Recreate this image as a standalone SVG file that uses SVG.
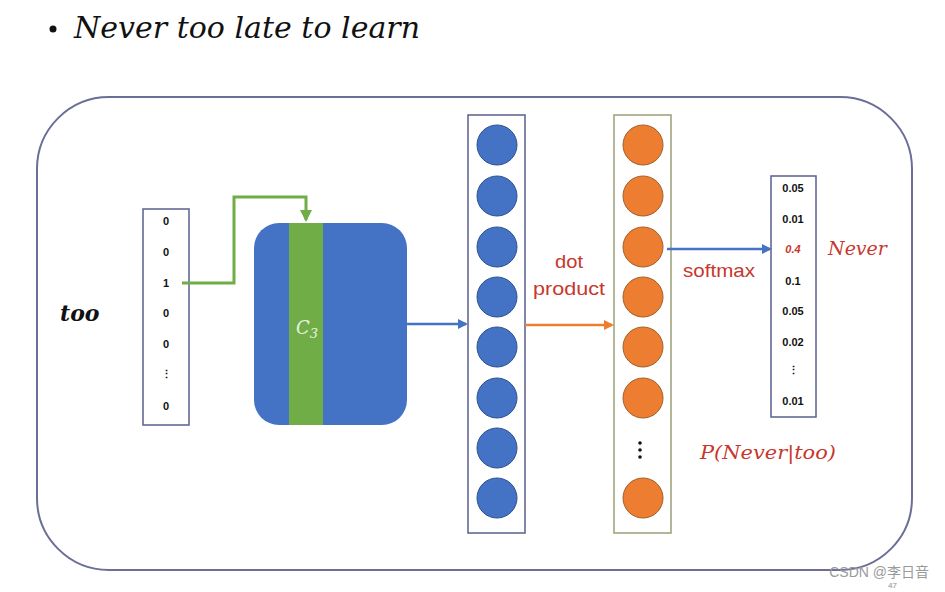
<svg xmlns="http://www.w3.org/2000/svg" width="945" height="592" viewBox="0 0 945 592">
<defs>
<style>
.vbox{fill:#fff;stroke:#5a5f8e;stroke-width:1.5}
.num{font-family:"Liberation Sans",Arial,sans-serif;font-size:11px;font-weight:bold;fill:#111;text-anchor:middle}
.red{fill:#c8372d}
.lbl{font-family:"Liberation Sans",Arial,sans-serif;font-size:19px;fill:#c8372d}
.ital{font-family:"DejaVu Serif","Liberation Serif",serif;font-style:italic}
.bc{fill:#4472c4;stroke:#2f528f;stroke-width:1}
.oc{fill:#ed7d31;stroke:#a0602a;stroke-width:1}
</style>
<marker id="ab" markerWidth="10" markerHeight="10" refX="8" refY="5" orient="auto" markerUnits="userSpaceOnUse"><path d="M0,0 L10,5 L0,10 z" fill="#4472c4"/></marker>
<marker id="ao" markerWidth="10" markerHeight="10" refX="8" refY="5" orient="auto" markerUnits="userSpaceOnUse"><path d="M0,0 L10,5 L0,10 z" fill="#ed7d31"/></marker>
<marker id="ag" markerWidth="12" markerHeight="12" refX="10" refY="6" orient="auto" markerUnits="userSpaceOnUse"><path d="M0,0 L12,6 L0,12 z" fill="#70ad47"/></marker>
</defs>
<rect width="945" height="592" fill="#fff"/>
<g id="title">
<circle cx="53" cy="29" r="3.5" fill="#111"/>
<text x="74" y="38" class="ital" font-size="29" fill="#111" textLength="346" lengthAdjust="spacingAndGlyphs">Never too late to learn</text>
</g>
<rect id="frame" x="37" y="97" width="875" height="473" rx="72" ry="72" fill="none" stroke="#6b6e96" stroke-width="2"/>
<g id="word">
<text x="60" y="321" class="ital" font-size="22" font-weight="bold" fill="#111">too</text>
</g>
<g id="input">
<rect class="vbox" x="143" y="209" width="46" height="216"/>
<text class="num" x="166" y="225">0</text>
<text class="num" x="166" y="256">0</text>
<text class="num" x="166" y="287">1</text>
<text class="num" x="166" y="317">0</text>
<text class="num" x="166" y="348">0</text>
<text class="num" x="166" y="378" font-size="9">⋮</text>
<text class="num" x="166" y="410">0</text>
</g>
<g id="matrix">
<rect x="254" y="223" width="153" height="202" rx="25" ry="25" fill="#4472c4"/>
<rect x="289" y="223" width="34" height="202" fill="#70ad47"/>
<text x="296" y="334" font-family="DejaVu Serif,serif" font-style="italic" font-size="18" fill="#e8f2e0">C<tspan font-size="13" dy="4">3</tspan></text>
</g>
<g id="hidden">
<rect class="vbox" x="468" y="115" width="57" height="418"/>
<circle class="bc" cx="497" cy="145" r="20"/>
<circle class="bc" cx="497" cy="196" r="20"/>
<circle class="bc" cx="497" cy="247" r="20"/>
<circle class="bc" cx="497" cy="297" r="20"/>
<circle class="bc" cx="497" cy="347" r="20"/>
<circle class="bc" cx="497" cy="398" r="20"/>
<circle class="bc" cx="497" cy="448" r="20"/>
<circle class="bc" cx="497" cy="498" r="20"/>
</g>
<g id="scores">
<rect x="614" y="115" width="57" height="418" fill="#fff" stroke="#9a9f78" stroke-width="1.5"/>
<circle class="oc" cx="643" cy="145" r="20"/>
<circle class="oc" cx="643" cy="196" r="20"/>
<circle class="oc" cx="643" cy="247" r="20" stroke="#6b6a3a" stroke-width="1.5"/>
<circle class="oc" cx="643" cy="297" r="20"/>
<circle class="oc" cx="643" cy="347" r="20"/>
<circle class="oc" cx="643" cy="398" r="20"/>
<circle cx="640" cy="443" r="1.8" fill="#111"/>
<circle cx="640" cy="450" r="1.8" fill="#111"/>
<circle cx="640" cy="457" r="1.8" fill="#111"/>
<circle class="oc" cx="643" cy="498" r="20"/>
</g>
<g id="output">
<rect class="vbox" x="771" y="176" width="45" height="241"/>
<text class="num" x="793" y="192" font-size="10">0.05</text>
<text class="num" x="793" y="223" font-size="10">0.01</text>
<text class="num red" x="793" y="253" font-size="10" font-style="italic">0.4</text>
<text class="num" x="793" y="285" font-size="10">0.1</text>
<text class="num" x="793" y="315" font-size="10">0.05</text>
<text class="num" x="793" y="346" font-size="10">0.02</text>
<text class="num" x="793" y="374" font-size="8" fill="#777">⋮</text>
<text class="num" x="793" y="405" font-size="10">0.01</text>
</g>
<g id="labels">
<text class="lbl" x="555" y="268" textLength="28" lengthAdjust="spacingAndGlyphs">dot</text>
<text class="lbl" x="533" y="295" textLength="72" lengthAdjust="spacingAndGlyphs">product</text>
<text class="lbl" x="683" y="277" textLength="72" lengthAdjust="spacingAndGlyphs">softmax</text>
<text x="828" y="255" class="ital red" font-size="19">Never</text>
<text x="700" y="459" class="ital red" font-size="19" textLength="136" lengthAdjust="spacingAndGlyphs">P(Never|too)</text>
</g>
<g id="connectors" fill="none">
<path d="M182,283 H234 V197 H306 V220" stroke="#70ad47" stroke-width="3" marker-end="url(#ag)"/>
<path d="M407,324 H466" stroke="#4472c4" stroke-width="2.5" marker-end="url(#ab)"/>
<path d="M525,325 H612" stroke="#ed7d31" stroke-width="2.5" marker-end="url(#ao)"/>
<path d="M667,249 H770" stroke="#4472c4" stroke-width="2.5" marker-end="url(#ab)"/>
</g>
<g id="watermark">
<text x="929" y="577" font-size="14" fill="#9a9a9a" text-anchor="end" font-family="Liberation Sans,'Noto Sans CJK SC',sans-serif">CSDN @李日音</text>
<text x="888" y="588" font-size="8" fill="#b0b0b0" font-weight="bold" font-family="Liberation Sans,sans-serif">47</text>
</g>
</svg>
